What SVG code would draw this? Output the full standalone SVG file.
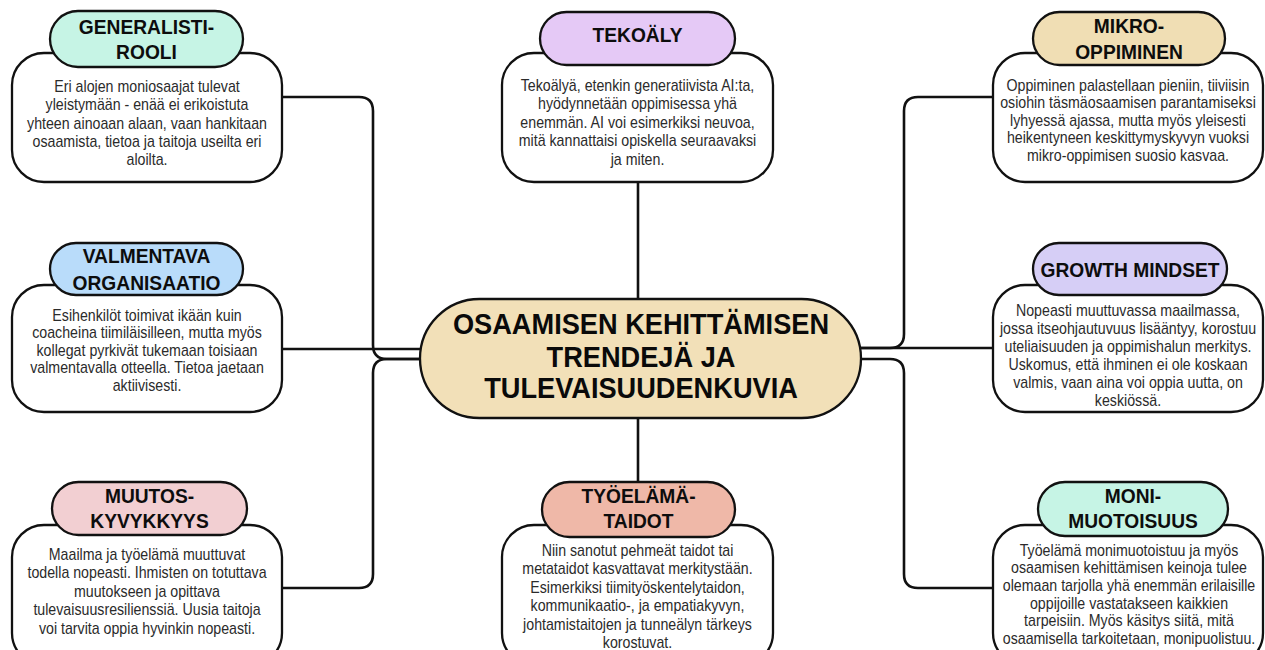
<svg xmlns="http://www.w3.org/2000/svg" width="1265" height="650" viewBox="0 0 1265 650">
  <style>
    .box { fill: #ffffff; stroke: #111111; stroke-width: 2.3; }
    .pill { stroke: #111111; stroke-width: 2.3; }
    .link { fill: none; stroke: #111111; stroke-width: 2.6; }
    .title { font-family: "Liberation Sans", Arial, sans-serif; font-weight: bold; font-size: 19.2px; fill: #0d0d0d; text-anchor: middle; }
    .body { font-family: "Liberation Sans", Arial, sans-serif; font-size: 14.2px; fill: #2b2b2b; text-anchor: middle; }
    .main { font-family: "Liberation Sans", Arial, sans-serif; font-weight: bold; font-size: 27.2px; fill: #0a0a0a; text-anchor: middle; }
  </style>

  <rect width="1265" height="650" fill="#ffffff"/>

  <!-- connectors from the central topic to each trend -->
  <g id="connectors">
    <path class="link" d="M282,97 H359 Q373,97 373,111 V345 Q373,359 387,359 H420"/>
    <path class="link" d="M282,349 H420"/>
    <path class="link" d="M282,588 H359 Q373,588 373,574 V373 Q373,359 387,359 H420"/>
    <path class="link" d="M993,97 H918 Q904,97 904,111 V334 Q904,348 890,348 H860"/>
    <path class="link" d="M993,348 H860"/>
    <path class="link" d="M993,588 H918 Q904,588 904,574 V373 Q904,359 890,359 H860"/>
    <path class="link" d="M638,182 V299"/>
    <path class="link" d="M638,418 V483"/>
  </g>

  <!-- central topic (text is drawn slightly tall: scale(1 1.09)) -->
  <g id="center">
    <rect x="420" y="299" width="441" height="119" rx="59.5" fill="#f2e0b8" stroke="#111111" stroke-width="2.3"/>
    <text class="main" transform="translate(641 334) scale(1 1.09)">OSAAMISEN KEHITTÄMISEN</text>
    <text class="main" transform="translate(641 367) scale(1 1.09)">TRENDEJÄ JA</text>
    <text class="main" transform="translate(641 398) scale(1 1.09)">TULEVAISUUDENKUVIA</text>
  </g>

  <g id="generalisti">
    <rect class="box" x="12" y="53" width="270" height="129" rx="32"/>
    <rect class="pill" x="50" y="11" width="193" height="56" rx="28" fill="#c6f4e5"/>
    <text class="title" transform="translate(146.5 33.5) scale(1 1.1)">GENERALISTI-</text>
    <text class="title" transform="translate(146.5 58.5) scale(1 1.1)">ROOLI</text>
    <text class="body" transform="translate(147 92) scale(1 1.15)">Eri alojen moniosaajat tulevat</text>
    <text class="body" transform="translate(147 110.3) scale(1 1.15)">yleistymään - enää ei erikoistuta</text>
    <text class="body" transform="translate(147 128.6) scale(1 1.15)">yhteen ainoaan alaan, vaan hankitaan</text>
    <text class="body" transform="translate(147 146.9) scale(1 1.15)">osaamista, tietoa ja taitoja useilta eri</text>
    <text class="body" transform="translate(147 165.2) scale(1 1.15)">aloilta.</text>
  </g>

  <g id="tekoaly">
    <rect class="box" x="502" y="53" width="271" height="129" rx="32"/>
    <rect class="pill" x="540" y="12" width="195" height="53" rx="26.5" fill="#e5c9f6"/>
    <text class="title" transform="translate(637.5 42) scale(1 1.1)">TEKOÄLY</text>
    <text class="body" transform="translate(637.5 90.5) scale(1 1.15)">Tekoälyä, etenkin generatiivista AI:ta,</text>
    <text class="body" transform="translate(637.5 109) scale(1 1.15)">hyödynnetään oppimisessa yhä</text>
    <text class="body" transform="translate(637.5 127.5) scale(1 1.15)">enemmän. AI voi esimerkiksi neuvoa,</text>
    <text class="body" transform="translate(637.5 146) scale(1 1.15)">mitä kannattaisi opiskella seuraavaksi</text>
    <text class="body" transform="translate(637.5 164.5) scale(1 1.15)">ja miten.</text>
  </g>

  <g id="mikro">
    <rect class="box" x="993" y="53" width="270" height="129" rx="32"/>
    <rect class="pill" x="1033" y="12" width="192" height="53" rx="26.5" fill="#f0deb4"/>
    <text class="title" transform="translate(1129 32.5) scale(1 1.1)">MIKRO-</text>
    <text class="title" transform="translate(1129 59) scale(1 1.1)">OPPIMINEN</text>
    <text class="body" transform="translate(1128 90.5) scale(1 1.15)">Oppiminen palastellaan pieniin, tiiviisin</text>
    <text class="body" transform="translate(1128 108) scale(1 1.15)">osiohin täsmäosaamisen parantamiseksi</text>
    <text class="body" transform="translate(1128 125.5) scale(1 1.15)">lyhyessä ajassa, mutta myös yleisesti</text>
    <text class="body" transform="translate(1128 143) scale(1 1.15)">heikentyneen keskittymyskyvyn vuoksi</text>
    <text class="body" transform="translate(1128 160.5) scale(1 1.15)">mikro-oppimisen suosio kasvaa.</text>
  </g>

  <g id="valmentava">
    <rect class="box" x="12" y="285" width="270" height="127" rx="32"/>
    <rect class="pill" x="50" y="243" width="193" height="52" rx="26" fill="#b9dcfa"/>
    <text class="title" transform="translate(146.5 263) scale(1 1.1)">VALMENTAVA</text>
    <text class="title" transform="translate(146.5 289.5) scale(1 1.1)">ORGANISAATIO</text>
    <text class="body" transform="translate(147 320.5) scale(1 1.15)">Esihenkilöt toimivat ikään kuin</text>
    <text class="body" transform="translate(147 338) scale(1 1.15)">coacheina tiimiläisilleen, mutta myös</text>
    <text class="body" transform="translate(147 355.5) scale(1 1.15)">kollegat pyrkivät tukemaan toisiaan</text>
    <text class="body" transform="translate(147 373) scale(1 1.15)">valmentavalla otteella. Tietoa jaetaan</text>
    <text class="body" transform="translate(147 390.5) scale(1 1.15)">aktiivisesti.</text>
  </g>

  <g id="growth">
    <rect class="box" x="993" y="285" width="270" height="127" rx="32"/>
    <rect class="pill" x="1033" y="243" width="194" height="52" rx="26" fill="#d6cef6"/>
    <text class="title" transform="translate(1130 277) scale(1 1.1)">GROWTH MINDSET</text>
    <text class="body" transform="translate(1128 315.5) scale(1 1.15)">Nopeasti muuttuvassa maailmassa,</text>
    <text class="body" transform="translate(1128 333.5) scale(1 1.15)">jossa itseohjautuvuus lisääntyy, korostuu</text>
    <text class="body" transform="translate(1128 351.5) scale(1 1.15)">uteliaisuuden ja oppimishalun merkitys.</text>
    <text class="body" transform="translate(1128 369.5) scale(1 1.15)">Uskomus, että ihminen ei ole koskaan</text>
    <text class="body" transform="translate(1128 387.5) scale(1 1.15)">valmis, vaan aina voi oppia uutta, on</text>
    <text class="body" transform="translate(1128 405.5) scale(1 1.15)">keskiössä.</text>
  </g>

  <g id="muutos">
    <rect class="box" x="12" y="525" width="270" height="140" rx="32"/>
    <rect class="pill" x="52" y="482" width="195" height="53" rx="26.5" fill="#f2cfd2"/>
    <text class="title" transform="translate(149.5 503) scale(1 1.1)">MUUTOS-</text>
    <text class="title" transform="translate(149.5 528) scale(1 1.1)">KYVYKKYYS</text>
    <text class="body" transform="translate(147 560) scale(1 1.15)">Maailma ja työelämä muuttuvat</text>
    <text class="body" transform="translate(147 578.4) scale(1 1.15)">todella nopeasti. Ihmisten on totuttava</text>
    <text class="body" transform="translate(147 596.8) scale(1 1.15)">muutokseen ja opittava</text>
    <text class="body" transform="translate(147 615.2) scale(1 1.15)">tulevaisuusresilienssiä. Uusia taitoja</text>
    <text class="body" transform="translate(147 633.6) scale(1 1.15)">voi tarvita oppia hyvinkin nopeasti.</text>
  </g>

  <g id="tyoelama">
    <rect class="box" x="502" y="525" width="271" height="140" rx="32"/>
    <rect class="pill" x="542" y="482" width="193" height="55" rx="27.5" fill="#efb8a8"/>
    <text class="title" transform="translate(638.5 503) scale(1 1.1)">TYÖELÄMÄ-</text>
    <text class="title" transform="translate(638.5 527.5) scale(1 1.1)">TAIDOT</text>
    <text class="body" transform="translate(637.5 555.5) scale(1 1.15)">Niin sanotut pehmeät taidot tai</text>
    <text class="body" transform="translate(637.5 574) scale(1 1.15)">metataidot kasvattavat merkitystään.</text>
    <text class="body" transform="translate(637.5 592.5) scale(1 1.15)">Esimerkiksi tiimityöskentelytaidon,</text>
    <text class="body" transform="translate(637.5 611) scale(1 1.15)">kommunikaatio-, ja empatiakyvyn,</text>
    <text class="body" transform="translate(637.5 629.5) scale(1 1.15)">johtamistaitojen ja tunneälyn tärkeys</text>
    <text class="body" transform="translate(637.5 648) scale(1 1.15)">korostuvat.</text>
  </g>

  <g id="moni">
    <rect class="box" x="993" y="525" width="270" height="140" rx="32"/>
    <rect class="pill" x="1038" y="482" width="190" height="54" rx="27" fill="#c6f4e5"/>
    <text class="title" transform="translate(1133 503) scale(1 1.1)">MONI-</text>
    <text class="title" transform="translate(1133 528) scale(1 1.1)">MUOTOISUUS</text>
    <text class="body" transform="translate(1129 555.5) scale(1 1.15)">Työelämä monimuotoistuu ja myös</text>
    <text class="body" transform="translate(1129 573.2) scale(1 1.15)">osaamisen kehittämisen keinoja tulee</text>
    <text class="body" transform="translate(1129 590.9) scale(1 1.15)">olemaan tarjolla yhä enemmän erilaisille</text>
    <text class="body" transform="translate(1129 608.6) scale(1 1.15)">oppijoille vastatakseen kaikkien</text>
    <text class="body" transform="translate(1129 626.3) scale(1 1.15)">tarpeisiin. Myös käsitys siitä, mitä</text>
    <text class="body" transform="translate(1129 644) scale(1 1.15)">osaamisella tarkoitetaan, monipuolistuu.</text>
  </g>
</svg>
